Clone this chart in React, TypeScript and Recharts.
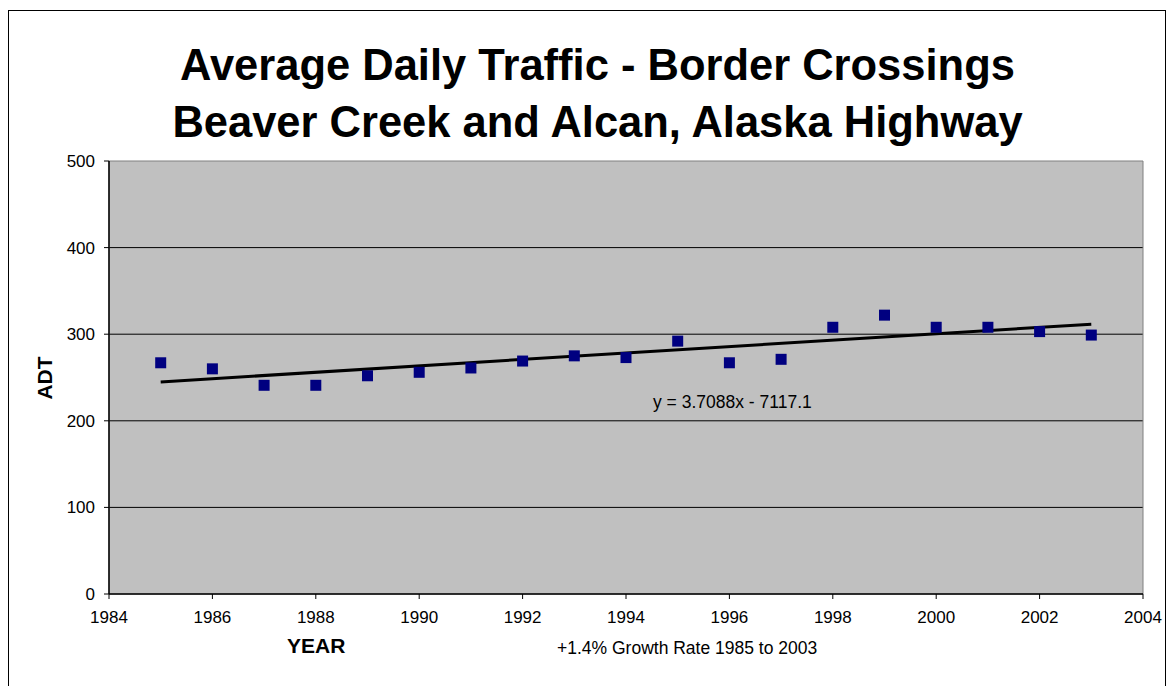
import React from "react";
import {
  ScatterChart,
  Scatter,
  XAxis,
  YAxis,
  CartesianGrid,
  ReferenceArea,
} from "recharts";

const years = [1985, 1986, 1987, 1988, 1989, 1990, 1991, 1992, 1993, 1994, 1995, 1996, 1997, 1998, 1999, 2000, 2001, 2002, 2003];
const adt = [267, 260, 241, 241, 252, 256, 261, 269, 275, 273, 292, 267, 271, 308, 322, 308, 308, 303, 299];
const trendYears = [1985, 2003];
const trendValues = [244.9, 311.6];
const xTicks = [1984, 1986, 1988, 1990, 1992, 1994, 1996, 1998, 2000, 2002, 2004];
const yTicks = [0, 100, 200, 300, 400, 500];
const gridValues = [100, 200, 300, 400];

const titleLine1 = "Average Daily Traffic - Border Crossings";
const titleLine2 = "Beaver Creek and Alcan, Alaska Highway";
const equation = "y = 3.7088x - 7117.1";
const growthNote = "+1.4% Growth Rate 1985 to 2003";

const points = years.map((y, i) => ({ year: y, adt: adt[i] }));
const trend = trendYears.map((y, i) => ({ year: y, adt: trendValues[i] }));

const FONT = "'Liberation Sans', Arial, Helvetica, sans-serif";
const MARK = 11;

const SquareMark = (props: any) => {
  const { cx, cy } = props;
  if (cx == null || cy == null) return null;
  return <rect x={cx - MARK / 2} y={cy - MARK / 2} width={MARK} height={MARK} fill="#000080" />;
};

export default function App() {
  return (
    <div style={{ position: "absolute", left: 0, top: 0, width: 1171, height: 686, background: "#fff", fontFamily: FONT, overflow: "hidden" }}>
      <div style={{ position: "absolute", left: 8, top: 10, width: 1158, height: 700, border: "1px solid #000", boxSizing: "border-box" }} />
      <div style={{ position: "absolute", left: 0, top: 37, width: 1195, textAlign: "center", fontWeight: "bold", fontSize: 43.5, lineHeight: "57px", color: "#000" }}>
        <div>{titleLine1}</div>
        <div>{titleLine2}</div>
      </div>
      <ScatterChart
        width={1171}
        height={686}
        margin={{ top: 161, right: 28, bottom: 62, left: 49 }}
        style={{ position: "absolute", left: 0, top: 0 }}
      >
        <CartesianGrid
          vertical={false}
          horizontalValues={gridValues}
          stroke="#000"
          strokeWidth={1}
          fill="#C0C0C0"
          fillOpacity={1}
        />
        <ReferenceArea x1={1984} x2={2004} y1={0} y2={500} fill="none" fillOpacity={0} stroke="#808080" strokeWidth={1} />
        <XAxis
          type="number"
          dataKey="year"
          domain={[1984, 2004]}
          ticks={xTicks}
          allowDataOverflow
          height={30}
          stroke="#000"
          tickSize={5}
          tickMargin={12}
          tick={{ fill: "#000", fontSize: 17, fontFamily: FONT }}
          tickLine={{ stroke: "#000" }}
          axisLine={{ stroke: "#000", strokeWidth: 1.5 }}
        />
        <YAxis
          type="number"
          dataKey="adt"
          domain={[0, 500]}
          ticks={yTicks}
          width={60}
          stroke="#000"
          tickSize={5}
          tickMargin={9}
          tick={{ fill: "#000", fontSize: 17, fontFamily: FONT }}
          tickLine={{ stroke: "#000" }}
          axisLine={{ stroke: "#000", strokeWidth: 1.5 }}
        />
        <Scatter
          data={trend}
          line={{ stroke: "#000", strokeWidth: 3 }}
          lineType="joint"
          shape={() => null}
          isAnimationActive={false}
        />
        <Scatter data={points} fill="#000080" shape={SquareMark} isAnimationActive={false} />
      </ScatterChart>
      <div style={{ position: "absolute", left: 653, top: 392, fontSize: 17.5, color: "#000", whiteSpace: "nowrap" }}>{equation}</div>
      <div style={{ position: "absolute", left: 287, top: 634, fontSize: 21, fontWeight: "bold", color: "#000" }}>YEAR</div>
      <div style={{ position: "absolute", left: 557, top: 638, fontSize: 17.5, color: "#000", whiteSpace: "nowrap" }}>{growthNote}</div>
      <div style={{ position: "absolute", left: 45, top: 378, fontSize: 21, fontWeight: "bold", color: "#000", transform: "translate(-50%, -50%) rotate(-90deg)", whiteSpace: "nowrap" }}>ADT</div>
    </div>
  );
}
